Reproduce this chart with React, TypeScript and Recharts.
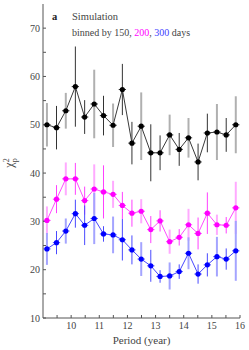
import React from 'react';
import { ComposedChart, Scatter, ErrorBar, XAxis, YAxis } from 'recharts';

// bin centres (years)
const periods = [9.14, 9.48, 9.81, 10.15, 10.48, 10.82, 11.15, 11.49, 11.82, 12.16, 12.49, 12.83, 13.16, 13.5, 13.84, 14.17, 14.51, 14.84, 15.18, 15.51, 15.85];

const chi150 = [50.0, 49.4, 52.9, 57.9, 51.6, 54.3, 51.9, 49.9, 57.3, 46.2, 49.7, 44.2, 44.2, 47.9, 44.9, 47.3, 42.3, 48.3, 48.5, 47.9, 50.0];
const err150 = [4.5, 4.5, 3.7, 8.3, 3.5, 7.1, 4.1, 4.5, 5.3, 4.4, 7.0, 5.9, 3.6, 4.2, 3.4, 4.1, 3.8, 4.0, 5.8, 3.5, 5.9];

const chi200 = [30.2, 34.6, 38.8, 38.8, 34.3, 36.7, 36.1, 35.6, 33.3, 31.7, 32.1, 28.3, 30.1, 25.8, 26.7, 29.3, 27.5, 31.7, 29.3, 29.2, 32.8];
const err200 = [2.9, 2.9, 3.4, 3.3, 2.9, 5.1, 5.5, 2.8, 2.8, 2.8, 2.5, 2.8, 2.2, 2.5, 1.7, 3.3, 3.3, 4.3, 2.1, 1.7, 5.4];

const chi300 = [24.3, 25.6, 28.0, 31.6, 29.2, 30.6, 27.4, 27.2, 26.2, 24.1, 22.2, 20.8, 18.6, 18.7, 19.6, 23.4, 19.1, 21.0, 22.7, 22.2, 23.9];
const err300 = [3.3, 2.4, 2.6, 2.9, 4.1, 5.3, 1.6, 3.8, 4.3, 3.0, 3.5, 3.3, 1.3, 2.8, 1.5, 3.3, 2.0, 2.4, 4.1, 2.2, 6.2];

// bins whose error comes from the overlapping estimate (drawn pale and wide)
const overlapBins = [true, false, true, false, false, true, false, true, false, false, true, false, false, true, false, true, false, false, true, false, true];

const halfBin = 0.13;

const xTicks = [9.5, 10, 10.5, 11, 11.5, 12, 12.5, 13, 13.5, 14, 14.5, 15, 15.5, 16];
const yTicks = [10, 15, 20, 25, 30, 35, 40, 45, 50, 55, 60, 65, 70];

const font = 'Liberation Serif, Times New Roman, serif';

const makeRows = (vals: number[], errs: number[]) =>
  periods.map((p, i) => ({
    x: p,
    y: vals[i],
    errThin: overlapBins[i] ? null : errs[i],
    errWide: overlapBins[i] ? errs[i] : null,
    xErr: halfBin,
  }));

const seriesList = [
  { name: '150', rows: makeRows(chi150, err150), dot: '#000000', line: '#3a3a3a', dark: '#333333', pale: '#b0b0b0' },
  { name: '200', rows: makeRows(chi200, err200), dot: '#ff00ff', line: '#ff4cff', dark: '#ff40ff', pale: '#ffaaff' },
  { name: '300', rows: makeRows(chi300, err300), dot: '#0000ff', line: '#4848ff', dark: '#4a4aff', pale: '#a4a4ff' },
];

const majorLabel = (v: number) => (Number.isInteger(v) ? String(v) : '');
const tickStyle = { fill: '#444', fontSize: 10, fontFamily: font };

const YLabel = () => (
  <text
    x={13}
    y={163}
    transform="rotate(-90, 13, 163)"
    textAnchor="middle"
    fontFamily={font}
    fontSize={12}
    fill="#444"
  >
    χ
    <tspan dy={-4} fontSize={8}>2</tspan>
    <tspan dx={-4} dy={8} fontSize={8}>p</tspan>
  </text>
);

export default function App() {
  return (
    <div style={{ position: 'absolute', left: 0, top: 0, width: 249, height: 350, fontFamily: font }}>
      <ComposedChart width={249} height={350} margin={{ top: 4, right: 9, bottom: 0, left: 0 }}>
        <XAxis
          dataKey="x"
          type="number"
          domain={[9, 16]}
          allowDataOverflow
          ticks={xTicks}
          tickFormatter={majorLabel}
          tickSize={-3}
          tickMargin={7}
          height={32}
          stroke="#555"
          tick={tickStyle}
          label={{ value: 'Period (year)', position: 'insideBottom', offset: 6, fill: '#444', fontSize: 11, fontFamily: font }}
        />
        <XAxis
          xAxisId="top"
          orientation="top"
          type="number"
          domain={[9, 16]}
          allowDataOverflow
          ticks={xTicks}
          tickFormatter={() => ''}
          tickSize={-3}
          height={0}
          stroke="#555"
        />
        <YAxis
          type="number"
          domain={[10, 75]}
          allowDataOverflow
          ticks={yTicks}
          tickFormatter={(v: number) => (v % 10 === 0 ? String(v) : '')}
          tickSize={-3}
          tickMargin={6}
          width={43}
          stroke="#555"
          tick={tickStyle}
          label={<YLabel />}
        />
        <YAxis
          yAxisId="right"
          orientation="right"
          type="number"
          domain={[10, 75]}
          allowDataOverflow
          ticks={yTicks}
          tickFormatter={() => ''}
          tickSize={-3}
          width={0}
          stroke="#555"
        />
        {seriesList.map((s) => (
          <Scatter
            key={s.name}
            name={s.name}
            data={s.rows}
            dataKey="y"
            isAnimationActive={false}
            line={{ stroke: s.line, strokeWidth: 1 }}
            shape={(p: any) => <circle cx={p.cx} cy={p.cy} r={2.6} fill={s.dot} />}
          >
            <ErrorBar dataKey="errWide" direction="y" width={0} stroke={s.pale} strokeWidth={2} />
            <ErrorBar dataKey="errThin" direction="y" width={0} stroke={s.dark} strokeWidth={1} />
            <ErrorBar dataKey="xErr" direction="x" width={0} stroke={s.dark} strokeWidth={1} />
          </Scatter>
        ))}
      </ComposedChart>
      <div style={{ position: 'absolute', left: 52, top: 11, fontSize: 10.5, fontWeight: 'bold', color: '#222' }}>a</div>
      <div style={{ position: 'absolute', left: 72, top: 11, fontSize: 10.5, color: '#444', whiteSpace: 'nowrap' }}>Simulation</div>
      <div style={{ position: 'absolute', left: 72, top: 27, fontSize: 10, color: '#444', whiteSpace: 'nowrap' }}>
        binned by 150, <span style={{ color: '#ff00ff' }}>200</span>, <span style={{ color: '#4040ff' }}>300</span> days
      </div>
    </div>
  );
}
